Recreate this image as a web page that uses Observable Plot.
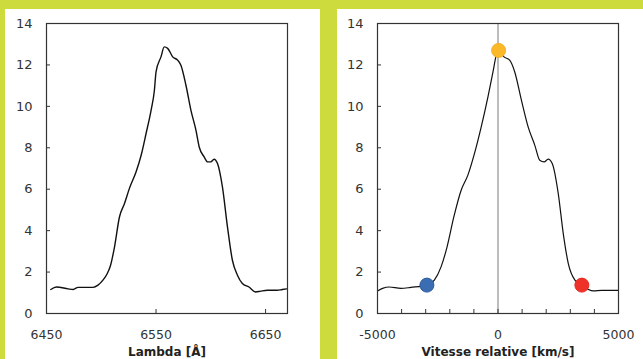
<!DOCTYPE html>
<html><head><meta charset="utf-8">
<script src="https://cdn.jsdelivr.net/npm/d3@7"></script>
<script src="https://cdn.jsdelivr.net/npm/@observablehq/plot@0.6"></script>
<style>
html,body{margin:0;padding:0;background:#cddc3c;width:643px;height:359px;overflow:hidden}
#left{position:absolute;left:5px;top:9px;width:315px;height:350px;background:#fff}
#right{position:absolute;left:337px;top:9px;width:306px;height:350px;background:#fff}
</style></head><body>
<div id="left"></div><div id="right"></div>
<script>
// Left panel: flux vs wavelength (Å)
const lambda = [6453.9,6459.1,6469.7,6474.3,6478.8,6492.5,6497,6501.5,6505.5,6508.5,6512.1,6516.6,6521.2,6525.7,6531.8,6536.4,6540.9,6545.5,6548.5,6550,6554.5,6557.5,6560.6,6565.2,6569.7,6572.7,6577.3,6581.8,6586.4,6589.4,6593.9,6597,6600,6603,6606.1,6610.6,6615.2,6619.7,6624.3,6628.8,6634.8,6640.9,6645.5,6651.5,6660.6,6665.2,6669.1];
const fluxL = [1.16,1.28,1.19,1.16,1.26,1.26,1.37,1.61,1.93,2.33,3.22,4.66,5.31,6.04,6.84,7.64,8.69,9.82,10.78,11.67,12.39,12.87,12.8,12.39,12.23,11.99,11.02,9.82,8.85,8.04,7.56,7.32,7.32,7.45,7.24,6.11,4.18,2.57,1.85,1.45,1.28,1.04,1.08,1.12,1.12,1.16,1.19];

// Right panel: flux vs relative velocity (km/s)
const velocity = [-5000,-4792,-4517,-4029,-3613,-2946,-2642,-2363,-2113,-1833,-1529,-1250,-975,-696,-417,-208,-71,25,250,483,692,971,1250,1525,1733,1917,2083,2250,2500,2708,2917,3192,3471,3750,3958,4304,5000];
const fluxV = [1.09,1.21,1.28,1.21,1.26,1.37,1.61,2.25,3.22,4.66,5.95,6.68,7.73,9.01,10.46,11.67,12.47,12.72,12.39,12.23,11.67,10.3,9.01,8.13,7.4,7.32,7.45,7.24,5.79,3.86,2.41,1.61,1.37,1.16,1.09,1.12,1.12];

// Highlighted points
const pointV = [-2950, 25, 3480];
const pointF = [1.37, 12.7, 1.37];
const pointColors = ["#3b6db3", "#fbb829", "#ee3129"];
const pointStrokes = ["#2d5a9c", "#f5b023", "#e52a22"];

// Ticks
const yTicks = [0,2,4,6,8,10,12,14];
const lambdaLabelTicks = [6450,6550,6650];
const lambdaInnerTicks = [6550,6650];
const velLabelTicks = [-5000,0,5000];
const velInnerTicks = [-4000,-3000,-2000,-1000,0,1000,2000,3000,4000];

const H = 350, mT = 14, mB = 46;
function panel({width, marginLeft, marginRight, xDomain, labelTicks, innerTicks, xLabel, marks}) {
  const innerH = H - mT - mB;
  const innerW = width - marginLeft - marginRight;
  return Plot.plot({
    width, height: H, marginTop: mT, marginBottom: mB, marginLeft, marginRight,
    style: {fontFamily: "DejaVu Sans", background: "#fff", color: "#333", overflow: "visible"},
    x: {domain: xDomain},
    y: {domain: [0, 14]},
    color: {type: "identity"},
    marks: [
      ...marks,
      Plot.tickX(innerTicks, {x: d => d, insetTop: innerH - 4, stroke: "#333"}),
      Plot.tickY(yTicks, {y: d => d, insetRight: innerW - 4, stroke: "#333"}),
      Plot.frame({stroke: "#333", strokeWidth: 1.2}),
      Plot.axisY(yTicks, {tickSize: 0, tickPadding: 14, fontSize: 13, tickFormat: d => String(d), label: null, fill: "#333"}),
      Plot.axisX(labelTicks, {tickSize: 0, tickPadding: 17, fontSize: 12.5, tickFormat: d => String(d), label: null, fill: "#333"}),
      Plot.axisX({ticks: [], label: xLabel, labelAnchor: "center", labelArrow: "none", labelOffset: 42, fontSize: 12, fontWeight: "bold", fill: "#222"})
    ]
  });
}

document.getElementById("left").append(panel({
  width: 315, marginLeft: 41, marginRight: 33,
  xDomain: [6450, 6670],
  labelTicks: lambdaLabelTicks, innerTicks: lambdaInnerTicks,
  xLabel: "Lambda [Å]",
  marks: [
    Plot.line(lambda, {x: lambda, y: fluxL, stroke: "#111", strokeWidth: 1.4, curve: "monotone-x"})
  ]
}));

document.getElementById("right").append(panel({
  width: 306, marginLeft: 40, marginRight: 25,
  xDomain: [-5000, 5000],
  labelTicks: velLabelTicks, innerTicks: velInnerTicks,
  xLabel: "Vitesse relative [km/s]",
  marks: [
    Plot.ruleX([0], {x: d => d, stroke: "#a6a6a6", strokeWidth: 1.5}),
    Plot.line(velocity, {x: velocity, y: fluxV, stroke: "#111", strokeWidth: 1.2, curve: "monotone-x"}),
    Plot.dot(pointV, {x: pointV, y: pointF, r: 7, fill: pointColors, stroke: pointStrokes, strokeWidth: 1})
  ]
}));
</script>
</body></html>
